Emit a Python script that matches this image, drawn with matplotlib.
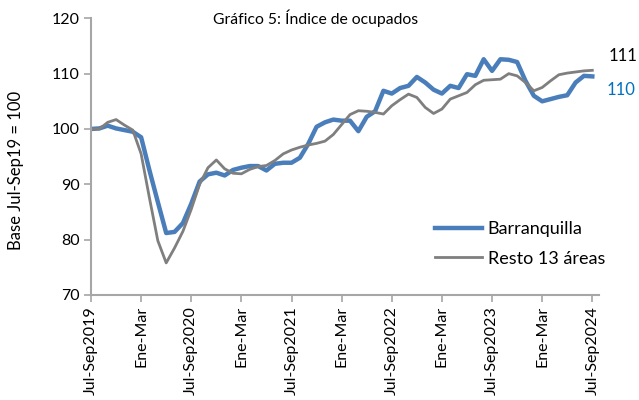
import matplotlib
matplotlib.use("Agg")
import matplotlib.pyplot as plt

plt.rcParams['font.family'] = ['Lato', 'DejaVu Sans']

title = "Gráfico 5: Índice de ocupados"
ylabel = "Base Jul-Sep19 = 100"
series_names = ["Barranquilla", "Resto 13 áreas"]
tick_labels = ["Jul-Sep2019", "Ene-Mar", "Jul-Sep2020", "Ene-Mar", "Jul-Sep2021",
               "Ene-Mar", "Jul-Sep2022", "Ene-Mar", "Jul-Sep2023", "Ene-Mar", "Jul-Sep2024"]

barranquilla = [100, 100.1, 100.6, 100.1, 99.8, 99.5, 98.5, 92.5, 86.8, 81.2,
                81.4, 83.0, 86.5, 90.5, 91.8, 92.1, 91.6, 92.6, 93.0, 93.3,
                93.3, 92.5, 93.7, 93.9, 93.9, 94.8, 97.3, 100.4, 101.2, 101.7,
                101.5, 101.5, 99.6, 102.2, 103.2, 106.9, 106.4, 107.4, 107.8, 109.4,
                108.4, 107.1, 106.4, 107.8, 107.4, 109.9, 109.6, 112.6, 110.5, 112.6,
                112.5, 112.1, 108.7, 106.0, 105.0, 105.4, 105.8, 106.1, 108.4, 109.6,
                109.5]
resto = [100, 100, 101.2, 101.7, 100.7, 99.8, 95.5, 87.5, 79.8, 75.8,
         78.5, 81.5, 85.5, 90.0, 93.0, 94.4, 92.8, 92.0, 91.9, 92.7,
         93.2, 93.4, 94.3, 95.5, 96.2, 96.7, 97.1, 97.4, 97.8, 99.0,
         100.8, 102.6, 103.3, 103.2, 103.0, 102.7, 104.2, 105.3, 106.3, 105.7,
         103.9, 102.8, 103.6, 105.4, 106.0, 106.6, 108.0, 108.8, 108.9, 109.0,
         110.0, 109.6, 108.4, 106.9, 107.5, 108.7, 109.8, 110.1, 110.3, 110.5,
         110.6]
end_labels = ["111", "110"]

fig = plt.figure(figsize=(6.39, 4.00), dpi=100)
ax = fig.add_axes([91/639, 1-295/400, (599-91)/639, (295-18.3)/400])

x = list(range(len(barranquilla)))
l1, = ax.plot(x, barranquilla, color="#4A7EBB", lw=3.2, solid_joinstyle="round",
              label=series_names[0])
l2, = ax.plot(x, resto, color="#7F7F7F", lw=2.0, solid_joinstyle="round",
              label=series_names[1])

ax.set_xlim(0, 60.8)
ax.set_ylim(70, 120)
ax.set_yticks(range(70, 121, 10))
ax.set_xticks(range(0, 61, 6))
ax.set_xticklabels(tick_labels, rotation=90, fontsize=11.5)
ax.tick_params(axis='y', labelsize=11.5, length=5, color="#A6A6A6", width=1.2, pad=3)
ax.tick_params(axis='x', length=5, color="#A6A6A6", width=1.2, pad=3)
for s in ["top", "right"]:
    ax.spines[s].set_visible(False)
for s in ["left", "bottom"]:
    ax.spines[s].set_color("#A6A6A6")
    ax.spines[s].set_linewidth(1.5)

fig.text(316/639, 1-18/400, title, ha="center", va="center", fontsize=11.3)
fig.text(16/639, 1-170/400, ylabel, rotation=90, ha="center", va="center", fontsize=12)

fig.text(609/639, 1-56/400, end_labels[0], ha="left", va="center", fontsize=12, color="black")
fig.text(607/639, 1-90/400, end_labels[1], ha="left", va="center", fontsize=12, color="#0070C0")

leg = fig.legend(handles=[l1, l2], loc="upper left", bbox_to_anchor=(428/639, 1-214/400),
                 frameon=False, fontsize=13, handlelength=2.6, handletextpad=0.3,
                 labelspacing=0.75, borderaxespad=0)

fig.savefig("out.png", dpi=100)
